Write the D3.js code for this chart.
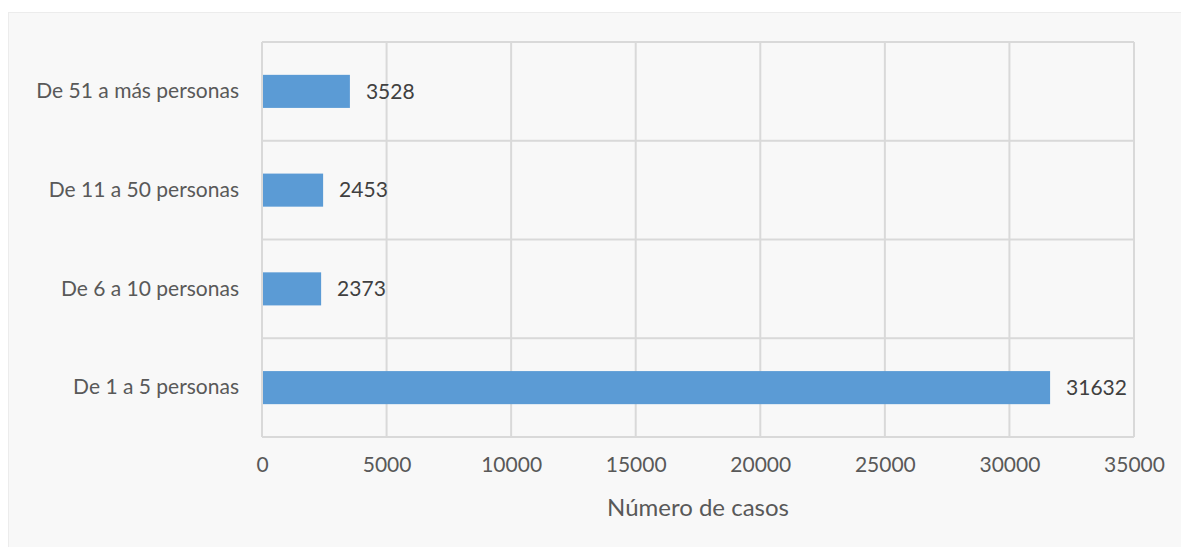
<!DOCTYPE html>
<html>
<head>
<meta charset="utf-8">
<script src="https://cdn.jsdelivr.net/npm/d3@7"></script>
<style>
  body { margin: 0; background: #fff; }
  svg { display: block; }
</style>
</head>
<body>
<svg id="chart"></svg>
<script>
// categories top to bottom
const categories = ["De 51 a más personas", "De 11 a 50 personas", "De 6 a 10 personas", "De 1 a 5 personas"];
const values = [3528, 2453, 2373, 31632];
const xTicks = [0, 5000, 10000, 15000, 20000, 25000, 30000, 35000];
const xTitle = "Número de casos";

const width = 1181, height = 547;
const margin = { top: 42, right: 47, bottom: 110, left: 262 };
const font = "Lato, 'Open Sans', sans-serif";

const svg = d3.select("#chart")
    .attr("width", width)
    .attr("height", height)
    .attr("viewBox", [0, 0, width, height]);

// chart area (runs off the right and bottom edge)
svg.append("rect")
    .attr("x", 8.5).attr("y", 12.5)
    .attr("width", 1190).attr("height", 545)
    .attr("fill", "#f8f8f8")
    .attr("stroke", "#ececec");

const x = d3.scaleLinear([0, 35000], [margin.left, width - margin.right]);
const y = d3.scaleBand(categories, [margin.top, height - margin.bottom]);

// vertical grid lines
svg.append("g")
    .selectAll("line")
    .data(xTicks)
    .join("line")
        .attr("x1", d => x(d)).attr("x2", d => x(d))
        .attr("y1", margin.top).attr("y2", height - margin.bottom)
        .attr("stroke", "#d9d9d9")
        .attr("stroke-width", 2);

// horizontal category borders
const bounds = categories.map(c => y(c)).concat([height - margin.bottom]);
svg.append("g")
    .selectAll("line")
    .data(bounds)
    .join("line")
        .attr("x1", margin.left).attr("x2", width - margin.right)
        .attr("y1", d => d).attr("y2", d => d)
        .attr("stroke", "#d9d9d9")
        .attr("stroke-width", 2);

// bars
const barH = y.bandwidth() * 0.335;
svg.append("g")
    .selectAll("rect")
    .data(values)
    .join("rect")
        .attr("x", x(0) + 1)
        .attr("y", (d, i) => y(categories[i]) + (y.bandwidth() - barH) / 2)
        .attr("width", d => x(d) - x(0) - 1)
        .attr("height", barH)
        .attr("fill", "#5b9bd5");

// data labels
svg.append("g")
    .selectAll("text")
    .data(values)
    .join("text")
        .attr("x", d => x(d) + 16)
        .attr("y", (d, i) => y(categories[i]) + y.bandwidth() / 2)
        .attr("dy", "0.35em")
        .attr("font-family", font)
        .attr("font-size", 21)
        .attr("fill", "#404040")
        .text(d => d);

// y axis labels
const yAxis = svg.append("g")
    .attr("transform", `translate(${margin.left}, 0)`)
    .call(d3.axisLeft(y).tickSize(0).tickPadding(23));
yAxis.select(".domain").remove();
yAxis.selectAll("text")
    .attr("font-family", font)
    .attr("font-size", 21)
    .attr("fill", "#595959");

// x axis labels
const xAxis = svg.append("g")
    .attr("transform", `translate(0, ${height - margin.bottom})`)
    .call(d3.axisBottom(x).tickValues(xTicks).tickFormat(d3.format("d")).tickSize(0).tickPadding(20));
xAxis.select(".domain").remove();
xAxis.selectAll("text")
    .attr("font-family", font)
    .attr("font-size", 21)
    .attr("fill", "#595959");

// x title
svg.append("text")
    .attr("x", (margin.left + width - margin.right) / 2)
    .attr("y", 516)
    .attr("text-anchor", "middle")
    .attr("font-family", font)
    .attr("font-size", 24)
    .attr("fill", "#595959")
    .text(xTitle);
</script>
</body>
</html>
